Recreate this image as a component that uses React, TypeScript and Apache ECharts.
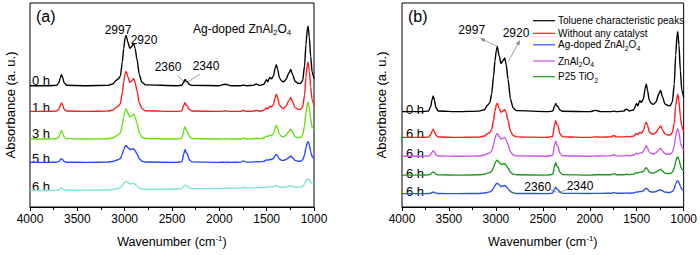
import React, { useEffect, useRef } from 'react';
import * as echarts from 'echarts';

const WAVENUMBERS = [4000, 3800, 3720, 3695, 3680, 3668, 3655, 3640, 3615, 3400,
  3180, 3120, 3095, 3065, 3045, 3025, 3010, 2995, 2985, 2965,
  2945, 2925, 2905, 2890, 2870, 2845, 2817, 2780, 2450, 2395,
  2375, 2362, 2350, 2338, 2320, 2290, 2000, 1940, 1880, 1775,
  1745, 1715, 1640, 1610, 1580, 1530, 1503, 1488, 1468, 1450,
  1428, 1410, 1398, 1385, 1365, 1340, 1320, 1295, 1265, 1245,
  1225, 1200, 1170, 1145, 1120, 1100, 1085, 1070, 1062, 1050,
  1035, 1020, 1000];

// Panel (a): Ag-doped ZnAl2O4, 0 h .. 6 h (offset absorbance, a.u.)
const A_0H = [123.7, 123.7, 124.0, 126.7, 131.7, 135.0, 132.2, 126.7, 124.2, 123.7,
  124.0, 125.7, 128.7, 130.7, 133.7, 147.7, 161.7, 172.7, 175.0, 167.7,
  161.7, 163.7, 167.0, 161.7, 150.7, 134.7, 127.2, 124.5, 123.7, 124.2,
  127.7, 130.0, 128.2, 127.7, 125.2, 124.0, 123.7, 125.2, 123.7, 123.7,
  124.2, 123.7, 124.0, 125.4, 124.0, 125.2, 129.7, 127.7, 132.2, 130.7,
  133.7, 141.7, 145.0, 140.7, 131.7, 128.2, 127.7, 130.2, 136.7, 140.3,
  134.7, 128.2, 126.2, 126.0, 128.7, 143.7, 165.7, 181.7, 184.3, 173.7,
  153.7, 137.7, 130.7];
const A_1H = [97.5, 97.5, 97.8, 99.7, 103.5, 106.0, 103.9, 99.7, 97.9, 97.5,
  97.8, 99.0, 101.5, 103.0, 105.5, 116.5, 127.5, 136.0, 138.3, 132.5,
  127.0, 128.5, 131.0, 127.0, 118.5, 106.0, 100.3, 98.1, 97.5, 98.0,
  104.0, 106.5, 103.5, 103.0, 99.5, 97.9, 97.5, 98.0, 97.5, 97.5,
  98.5, 97.5, 97.8, 98.5, 97.8, 98.5, 101.0, 100.0, 102.5, 102.0,
  104.5, 112.0, 115.0, 111.5, 104.0, 101.0, 100.5, 103.0, 108.5, 111.7,
  107.0, 101.3, 99.5, 99.5, 102.0, 114.0, 132.5, 145.5, 147.7, 139.0,
  122.5, 109.5, 103.5];
const A_3H = [69.3, 69.3, 69.6, 71.5, 75.3, 77.7, 75.6, 71.5, 69.7, 69.3,
  69.6, 70.6, 72.3, 73.8, 75.8, 83.8, 92.3, 98.3, 100.0, 95.3,
  91.7, 92.8, 95.0, 91.8, 85.3, 75.8, 71.3, 69.8, 69.3, 70.1,
  78.3, 82.0, 78.3, 77.3, 72.3, 69.8, 69.3, 69.6, 69.3, 69.3,
  70.3, 69.3, 69.6, 70.1, 69.6, 70.3, 72.3, 71.8, 73.3, 72.8,
  74.8, 80.8, 83.3, 80.3, 74.3, 71.8, 71.8, 73.3, 77.3, 79.3,
  75.8, 71.8, 70.8, 70.8, 73.3, 82.3, 96.3, 105.3, 107.0, 101.3,
  90.3, 81.3, 79.3];
const A_5H = [45.5, 45.5, 45.7, 46.5, 48.2, 49.3, 48.3, 46.5, 45.7, 45.5,
  45.8, 46.5, 47.5, 48.3, 49.5, 54.0, 58.5, 61.8, 62.7, 60.5,
  58.7, 59.0, 59.3, 57.5, 54.0, 49.0, 46.7, 45.9, 45.5, 46.3,
  54.5, 58.7, 55.0, 54.3, 48.5, 46.0, 45.5, 45.8, 45.5, 45.8,
  47.0, 45.8, 45.8, 46.3, 46.0, 46.5, 48.0, 47.8, 48.5, 48.5,
  49.5, 52.5, 53.7, 52.0, 49.0, 47.5, 47.5, 48.5, 50.5, 52.0,
  50.0, 47.5, 46.7, 46.7, 48.0, 53.0, 60.5, 65.8, 66.7, 63.5,
  56.5, 51.5, 49.3];
const A_6H = [16.8, 16.9, 17.0, 17.6, 18.6, 19.3, 18.7, 17.6, 17.1, 17.2,
  17.4, 17.9, 18.4, 18.9, 19.5, 21.8, 24.0, 25.6, 26.1, 25.0,
  23.7, 23.8, 24.0, 23.2, 21.5, 19.4, 18.3, 17.9, 18.3, 18.7,
  21.5, 22.6, 21.5, 21.4, 19.5, 18.6, 18.9, 19.1, 19.1, 19.3,
  20.1, 19.4, 19.5, 19.6, 19.6, 19.9, 20.3, 20.3, 20.5, 20.5,
  20.8, 21.5, 21.8, 21.4, 20.6, 20.2, 20.2, 20.5, 21.2, 21.7,
  21.0, 20.4, 20.3, 20.3, 20.9, 23.3, 26.5, 28.4, 28.6, 27.5,
  25.3, 23.7, 23.3];

// Panel (b): toluene (0 h) and 6 h under different catalysts
const B_TOLUENE = [97.7, 97.7, 98.2, 102.7, 109.7, 113.7, 109.7, 102.2, 98.3, 97.7,
  98.2, 99.7, 103.7, 106.7, 115.7, 133.7, 149.7, 160.7, 164.3, 154.7,
  147.0, 149.7, 152.7, 145.7, 130.7, 110.7, 101.7, 98.7, 97.7, 98.2,
  103.2, 106.0, 103.7, 102.7, 99.5, 98.1, 97.7, 99.0, 97.7, 97.7,
  98.2, 97.7, 98.2, 100.3, 98.3, 99.7, 106.0, 103.7, 109.0, 107.2,
  110.7, 121.7, 126.0, 119.7, 108.7, 105.7, 105.3, 107.7, 115.7, 119.3,
  112.7, 105.7, 104.0, 103.7, 107.7, 125.7, 155.7, 176.7, 179.7, 165.7,
  139.7, 119.7, 112.0];
const B_NO_CAT = [71.3, 71.3, 71.6, 73.8, 77.5, 79.7, 77.5, 73.6, 71.7, 71.3,
  71.6, 72.8, 74.8, 76.3, 79.3, 88.3, 98.3, 104.8, 106.3, 100.8,
  97.0, 98.3, 99.7, 96.3, 88.3, 77.8, 73.3, 71.8, 71.3, 72.3,
  84.3, 88.7, 84.3, 83.7, 75.3, 71.9, 71.3, 71.8, 71.6, 71.8,
  73.3, 71.8, 71.8, 72.3, 71.8, 72.8, 75.3, 74.3, 76.3, 75.8,
  78.3, 84.3, 87.0, 83.8, 76.8, 74.8, 74.8, 76.3, 80.8, 83.0,
  79.3, 74.8, 73.8, 73.8, 76.3, 86.3, 103.3, 113.3, 115.3, 108.3,
  93.3, 82.3, 77.3];
const B_ZNAL = [52.0, 52.0, 52.2, 53.7, 56.2, 57.7, 56.2, 53.6, 52.3, 52.0,
  52.3, 53.2, 54.5, 55.5, 57.5, 63.5, 70.0, 74.3, 75.3, 72.0,
  69.7, 70.5, 71.3, 69.0, 63.5, 56.5, 53.5, 52.4, 52.0, 53.0,
  63.5, 67.7, 63.0, 62.0, 55.5, 52.5, 52.0, 52.3, 52.3, 52.4,
  53.5, 52.4, 52.4, 52.8, 52.4, 53.2, 55.0, 54.5, 55.5, 55.3,
  57.0, 61.0, 62.7, 60.5, 56.0, 54.5, 54.5, 55.5, 58.5, 60.3,
  57.5, 54.5, 54.0, 54.0, 56.0, 62.5, 73.0, 79.0, 80.3, 76.0,
  67.0, 61.0, 58.7];
const B_P25 = [32.7, 32.7, 32.9, 33.7, 35.1, 36.0, 35.1, 33.7, 32.9, 32.7,
  33.0, 33.7, 34.7, 35.2, 36.7, 40.7, 44.7, 47.3, 48.0, 45.7,
  43.7, 44.0, 44.3, 42.7, 39.7, 35.7, 33.7, 33.0, 32.7, 33.5,
  41.7, 45.3, 41.7, 41.3, 35.7, 33.2, 32.7, 33.0, 33.0, 33.1,
  34.2, 33.1, 33.1, 33.5, 33.2, 33.7, 35.2, 34.9, 35.7, 35.7,
  36.7, 39.2, 40.3, 38.7, 35.7, 34.7, 34.7, 35.7, 37.7, 38.7,
  36.9, 34.7, 34.2, 34.2, 35.7, 39.7, 46.7, 50.7, 51.3, 48.7,
  42.7, 38.7, 37.0];
const B_AG = [13.7, 13.7, 13.8, 14.2, 14.9, 15.3, 14.9, 14.2, 13.8, 13.7,
  13.9, 14.3, 14.9, 15.5, 16.5, 19.2, 22.0, 23.8, 24.3, 22.5,
  21.0, 21.5, 22.0, 21.0, 18.7, 15.9, 14.5, 13.9, 13.7, 14.2,
  18.5, 20.3, 18.3, 17.7, 15.2, 14.0, 13.9, 14.0, 14.0, 14.1,
  14.7, 14.1, 14.1, 14.3, 14.1, 14.5, 15.5, 15.3, 15.9, 15.9,
  16.7, 18.5, 19.3, 18.2, 16.0, 15.3, 15.3, 15.9, 17.2, 17.7,
  16.7, 15.2, 14.9, 14.9, 15.9, 18.7, 23.7, 26.5, 27.0, 25.2,
  21.2, 18.2, 17.0];

const X_TICKS = [4000, 3500, 3000, 2500, 2000, 1500, 1000];
const TIME_LABELS_A = ['0 h', '1 h', '3 h', '5 h', '6 h'];
const TIME_LABELS_B = ['0 h', '6 h', '6 h', '6 h', '6 h'];
const LEGEND_B = [
  '{n|Toluene characteristic peaks}',
  '{n|Without any catalyst}',
  '{n|Ag-doped ZnAl}{s|2}{n|O}{s|4}',
  '{n|ZnAl}{s|2}{n|O}{s|4}',
  '{n|P25 TiO}{s|2}',
];

const FONT = '"Liberation Sans", Arial, Helvetica, sans-serif';
const C = {
  black: '#000000', red: '#ff1c1c', lime: '#66e010', blue: '#2a44ff', cyan: '#7ee6d6',
  magenta: '#cc55ee', green: '#1a9a1a', blue2: '#3050ee', grey: '#8a8a8a',
};

function xAxis(gridIndex: number) {
  return {
    gridIndex, type: 'value', min: 1000, max: 4000, interval: 500, inverse: true,
    axisLine: { show: true, onZero: false, lineStyle: { color: '#000', width: 1 } },
    axisTick: { show: true, inside: false, length: 4, lineStyle: { color: '#000' } },
    minorTick: { show: true, splitNumber: 2, length: 3, lineStyle: { color: '#000' } },
    splitLine: { show: false }, minorSplitLine: { show: false },
    axisLabel: {
      color: '#000', fontSize: 12, fontFamily: FONT, margin: 6, showMinLabel: true, showMaxLabel: true,
      formatter: (v: number) => (X_TICKS.includes(v) ? String(v) : ''),
    },
    name: 'Wavenumber (cm{sup|-1})', nameLocation: 'middle', nameGap: 27,
    nameTextStyle: {
      color: '#000', fontSize: 12.5, fontFamily: FONT, lineHeight: 16,
      rich: { sup: { fontSize: 8, fontFamily: FONT, verticalAlign: 'top', lineHeight: 16, padding: [0, 0, 7, 0] } },
    },
  };
}
function yAxis(gridIndex: number, max: number, gap: number) {
  return {
    gridIndex, type: 'value', min: 0, max,
    axisLine: { show: false }, axisTick: { show: false }, axisLabel: { show: false }, splitLine: { show: false },
    name: 'Absorbance (a. u.)', nameLocation: 'middle', nameRotate: 90, nameGap: gap,
    nameTextStyle: { color: '#000', fontSize: 13, fontFamily: FONT },
  };
}
function line(name: string, values: number[], color: string, idx: number) {
  return {
    name, type: 'line', xAxisIndex: idx, yAxisIndex: idx, symbol: 'none', showSymbol: false,
    smooth: 0.25, smoothMonotone: 'x',
    lineStyle: { color, width: 1.4 }, itemStyle: { color },
    data: WAVENUMBERS.map((w, i) => [w, values[i]]), z: 3,
  };
}
const rich = {
  n: { fontSize: 12, fontFamily: FONT, fill: '#000', lineHeight: 16 },
  s: { fontSize: 8, fontFamily: FONT, fill: '#000', verticalAlign: 'bottom', lineHeight: 16, padding: [6, 0, 0, 0] },
};
const richL = {
  n: { fontSize: 10, fontFamily: FONT, fill: '#000', lineHeight: 14 },
  s: { fontSize: 7, fontFamily: FONT, fill: '#000', verticalAlign: 'bottom', lineHeight: 14, padding: [5, 0, 0, 0] },
};
function txt(x: number, y: number, text: string, fontSize = 12, align = 'left') {
  return { type: 'text', x, y, silent: true, style: { text, fontSize, fontFamily: FONT, fill: '#000', align, verticalAlign: 'middle' } };
}
function seg(x1: number, y1: number, x2: number, y2: number) {
  return { type: 'line', silent: true, shape: { x1, y1, x2, y2 }, style: { stroke: C.grey, lineWidth: 0.8 } };
}

const A_COLORS = [C.black, C.red, C.lime, C.blue, C.cyan];
const A_DATA = [A_0H, A_1H, A_3H, A_5H, A_6H];
const B_DATA = [B_TOLUENE, B_NO_CAT, B_ZNAL, B_P25, B_AG];
const B_COLORS = [C.black, C.red, C.magenta, C.green, C.blue2];
const LEGEND_COLORS = [C.black, C.red, C.blue2, C.magenta, C.green];
const LEGEND_Y = [20.7, 33.3, 44.8, 61, 76.7];
const LABEL_Y_A = [80.7, 107, 133, 158.3, 186];
const LABEL_Y_B = [109.3, 133.3, 153.3, 173.3, 191];

export default function App() {
  const ref = useRef<HTMLDivElement>(null);
  useEffect(() => {
    const chart = echarts.init(ref.current!, null, { renderer: 'svg' });
    const graphic: any[] = [
      txt(36, 16, '(a)', 16),
      txt(118, 30, '2997', 12, 'center'),
      txt(144, 40, '2920', 12, 'center'),
      txt(168, 66.5, '2360', 12, 'center'),
      txt(206, 65.5, '2340', 12, 'center'),
      seg(176.7, 75, 185.3, 82.7),
      seg(200, 74, 186.7, 82.7),
      { type: 'text', x: 193, y: 28.5, silent: true, style: { text: '{n|Ag-doped ZnAl}{s|2}{n|O}{s|4}', rich, verticalAlign: 'middle' } },
      ...TIME_LABELS_A.map((t, i) => txt(32, LABEL_Y_A[i], t, 13)),
      txt(408, 16, '(b)', 16),
      txt(471.7, 30, '2997', 12, 'center'),
      txt(516, 33.3, '2920', 12, 'center'),
      seg(498.3, 46.7, 482, 39.2),
      { type: 'polygon', silent: true, shape: { points: [[480, 38.3], [485.4, 38.6], [483.7, 42.2]] }, style: { fill: C.grey } },
      seg(508.3, 61.7, 519, 41.8),
      { type: 'polygon', silent: true, shape: { points: [[520, 40], [519.4, 45.4], [515.9, 43.5]] }, style: { fill: C.grey } },
      txt(537.7, 187, '2360', 12, 'center'),
      txt(580, 186.3, '2340', 12, 'center'),
      seg(550, 189.5, 556.7, 192.3),
      seg(568.3, 189.5, 558.3, 192.3),
      ...TIME_LABELS_B.map((t, i) => txt(406, LABEL_Y_B[i], t, 13)),
      ...LEGEND_B.map((t, i) => ({
        type: 'group', silent: true, children: [
          { type: 'line', shape: { x1: 533, y1: LEGEND_Y[i], x2: 555, y2: LEGEND_Y[i] }, style: { stroke: LEGEND_COLORS[i], lineWidth: 1.2 } },
          { type: 'text', x: 558, y: LEGEND_Y[i], style: { text: t, rich: richL, verticalAlign: 'middle' } },
        ],
      })),
    ];
    chart.setOption({
      animation: false,
      backgroundColor: '#fff',
      textStyle: { fontFamily: FONT },
      grid: [
        { left: 30, top: 3, width: 284, height: 208, show: true, borderColor: '#000', borderWidth: 1, backgroundColor: 'transparent' },
        { left: 402, top: 3, width: 285, height: 209, show: true, borderColor: '#000', borderWidth: 1, backgroundColor: 'transparent' },
      ],
      xAxis: [xAxis(0), xAxis(1)],
      yAxis: [yAxis(0, 208, 13), yAxis(1, 209, 14)],
      series: [
        ...A_DATA.map((d, i) => line('a ' + TIME_LABELS_A[i], d, A_COLORS[i], 0)),
        ...B_DATA.map((d, i) => line('b ' + i, d, B_COLORS[i], 1)),
      ],
      graphic,
    });
    return () => chart.dispose();
  }, []);
  return <div ref={ref} style={{ position: 'absolute', left: 0, top: 0, width: 700, height: 255, background: '#fff' }} />;
}
